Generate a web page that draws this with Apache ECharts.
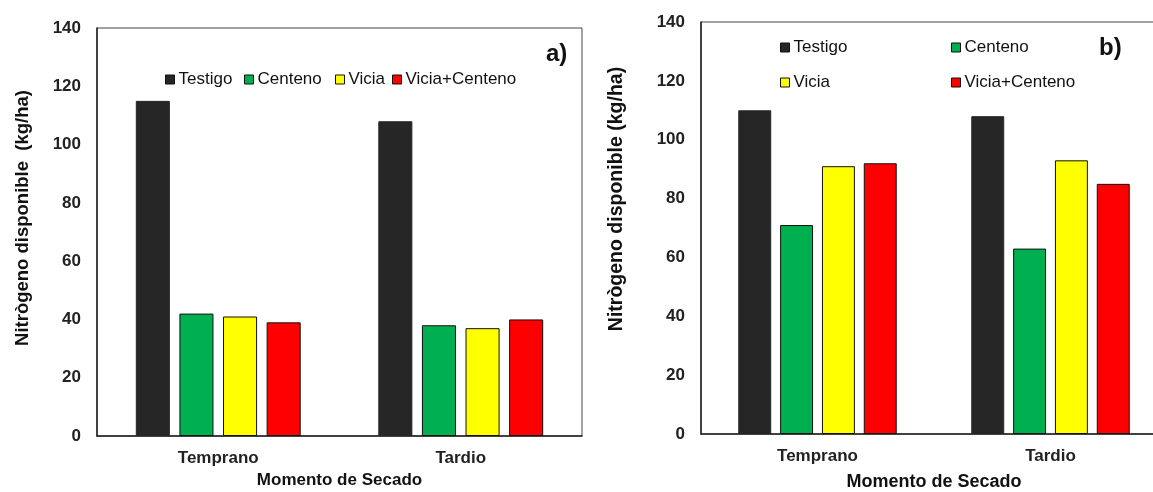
<!DOCTYPE html>
<html>
<head>
<meta charset="utf-8">
<script src="https://cdn.jsdelivr.net/npm/echarts@6/dist/echarts.min.js"></script>
<style>
html,body{margin:0;padding:0;background:#fff;}
#c{width:1153px;height:492px;}
</style>
</head>
<body>
<div id="c"></div>
<script>
// ---- data ----
const categories = ['Temprano', 'Tardio'];
const seriesNames = ['Testigo', 'Centeno', 'Vicia', 'Vicia+Centeno'];
const panelA_testigo = [115, 108];
const panelA_centeno = [42, 38];
const panelA_vicia = [41, 37];
const panelA_viciaCenteno = [39, 40];
const panelB_testigo = [110, 108];
const panelB_centeno = [71, 63];
const panelB_vicia = [91, 93];
const panelB_viciaCenteno = [92, 85];
const yTicks = [0, 20, 40, 60, 80, 100, 120, 140];
const yTitleA = 'Nitrògeno disponible  (kg/ha)';
const yTitleB = 'Nitrògeno disponible (kg/ha)';
const xTitle = 'Momento de Secado';

const colors = ['#262626', '#00B050', '#FFFF00', '#FF0000'];
const FONT = '"Liberation Sans", Arial, sans-serif';

const chart = echarts.init(document.getElementById('c'), null, {renderer: 'canvas'});

function yAxis(gridIndex) {
  return {
    type: 'value', gridIndex: gridIndex,
    min: yTicks[0], max: yTicks[yTicks.length - 1], interval: yTicks[1] - yTicks[0],
    axisLine: {show: true, lineStyle: {color: '#222', width: 1.5}},
    axisTick: {show: false},
    splitLine: {show: false},
    axisLabel: {fontFamily: FONT, fontWeight: 'bold', fontSize: 17, color: '#222', margin: 16}
  };
}
function xAxis(gridIndex, gap, fs) {
  return {
    type: 'category', gridIndex: gridIndex, data: categories,
    name: xTitle, nameLocation: 'middle', nameGap: gap,
    nameTextStyle: {fontFamily: FONT, fontWeight: 'bold', fontSize: fs, color: '#111'},
    axisLine: {show: true, lineStyle: {color: '#222', width: 1.5}},
    axisTick: {show: false},
    axisLabel: {fontFamily: FONT, fontWeight: 'bold', fontSize: 17, color: '#222', margin: 14}
  };
}
function bar(name, idx, data, gridIdx, gap, catGap) {
  return {
    type: 'bar', name: name, data: data,
    xAxisIndex: gridIdx, yAxisIndex: gridIdx,
    barGap: gap, barCategoryGap: catGap,
    itemStyle: {color: colors[idx], borderColor: idx === 0 ? colors[0] : '#111', borderWidth: 1},
    emphasis: {disabled: true}
  };
}
function legendItem(name, left, top) {
  return {
    left: left, top: top, data: [name], orient: 'horizontal',
    icon: 'rect', itemWidth: 9, itemHeight: 9, selectedMode: false,
    itemStyle: {borderColor: '#111', borderWidth: 1},
    textStyle: {fontFamily: FONT, fontSize: 17, color: '#111', padding: [0, 0, 0, -1]}
  };
}

const dataA = [panelA_testigo, panelA_centeno, panelA_vicia, panelA_viciaCenteno];
const dataB = [panelB_testigo, panelB_centeno, panelB_vicia, panelB_viciaCenteno];

const option = {
  backgroundColor: '#fff',
  animation: false,
  grid: [
    {left: 97, top: 28, width: 485, height: 408, outerBoundsMode: 'none', containLabel: false, show: true, borderColor: '#444', borderWidth: 1, backgroundColor: 'transparent'},
    {left: 701, top: 22, width: 466, height: 412, outerBoundsMode: 'none', containLabel: false, show: true, borderColor: '#444', borderWidth: 1, backgroundColor: 'transparent'}
  ],
  xAxis: [xAxis(0, 34, 17), xAxis(1, 39, 18)],
  yAxis: [yAxis(0), yAxis(1)],
  legend: [
    legendItem('Testigo', 160, 66),
    legendItem('Centeno', 239, 66),
    legendItem('Vicia', 330, 66),
    legendItem('Vicia+Centeno', 387, 66),
    legendItem('Testigo', 775, 34),
    legendItem('Centeno', 946, 34),
    legendItem('Vicia', 775, 69),
    legendItem('Vicia+Centeno', 946, 69)
  ],
  graphic: [
    {type: 'text', left: 546, top: 42, style: {text: 'a)', fontFamily: FONT, fontWeight: 'bold', fontSize: 24, fill: '#111'}},
    {type: 'text', left: 1099, top: 36, style: {text: 'b)', fontFamily: FONT, fontWeight: 'bold', fontSize: 24, fill: '#111'}},
    {type: 'text', x: 23, y: 218, rotation: Math.PI / 2,
     style: {text: yTitleA, fontFamily: FONT, fontWeight: 'bold', fontSize: 18.5, fill: '#111', align: 'center', verticalAlign: 'middle'}},
    {type: 'text', x: 617, y: 199, rotation: Math.PI / 2,
     style: {text: yTitleB, fontFamily: FONT, fontWeight: 'bold', fontSize: 19.5, fill: '#111', align: 'center', verticalAlign: 'middle'}}
  ],
  series: [
    ...seriesNames.map((n, i) => bar(n, i, dataA[i], 0, '28%', '32%')),
    ...seriesNames.map((n, i) => bar(n, i, dataB[i], 1, '27%', '32%'))
  ]
};
chart.setOption(option);
</script>
</body>
</html>
